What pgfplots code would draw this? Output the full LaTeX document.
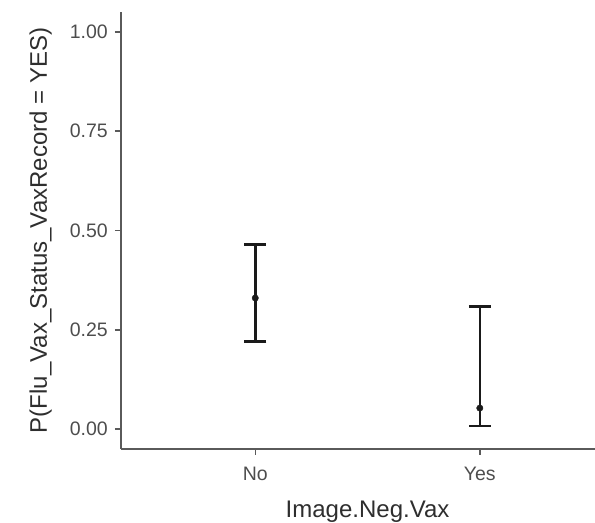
\documentclass[border=0pt]{standalone}
\usepackage{pgfplots}
\pgfplotsset{compat=1.18}
\usepackage{fontspec}
\setmainfont{Liberation Sans}
\definecolor{axisgrey}{HTML}{5A5A5A}
\definecolor{ticktext}{HTML}{4D4D4D}
\definecolor{titletext}{HTML}{2E2E2E}
\definecolor{barcol}{HTML}{1A1A1A}
\begin{document}
\begin{tikzpicture}
\begin{axis}[
  name=ax,
  scale only axis,
  width=474pt, height=437pt,
  xmin=0.402, xmax=2.513,
  ymin=-0.05, ymax=1.05,
  axis x line=bottom, axis y line=left,
  axis line style={-, draw=axisgrey, line width=1.4pt},
  xtick={1,2}, xticklabels={No,Yes},
  ytick={0,0.25,0.5,0.75,1},
  yticklabel={\pgfmathprintnumber[fixed,fixed zerofill,precision=2]{\tick}},
  /pgf/number format/assume math mode=true,
  tick align=outside,
  major tick length=6pt,
  tick style={draw=axisgrey, line width=1.4pt},
  ticklabel style={font=\fontsize{19.5}{20}\selectfont, text=ticktext, inner sep=0pt},
  xticklabel style={anchor=north, yshift=-12pt},
  yticklabel style={anchor=east, xshift=-7pt},
  xlabel={Image.Neg.Vax},
  ylabel={P(Flu\_Vax\_Status\_VaxRecord = YES)},
  label style={font=\fontsize{24}{26}\selectfont, text=titletext, inner sep=0pt},
  xlabel style={at={(axis cs:1.5,-0.05)}, anchor=north, yshift=-52pt},
  ylabel style={at={(axis description cs:0,0.5)}, anchor=south, yshift=69pt},
  clip=false,
]
% point estimates with asymmetric confidence intervals
\addplot[only marks, mark=*, mark size=3.2pt,
  mark options={draw=barcol, fill=barcol},
  error bars/.cd, y dir=both, y explicit,
  error bar style={line width=2.6pt, draw=barcol},
  error mark options={rotate=90, mark size=11pt, line width=2.6pt, draw=barcol}]
  coordinates {
    (1,0.330) += (0,0.135) -= (0,0.110)
    (2,0.053) += (0,0.256) -= (0,0.045)
  };
\end{axis}
\pgfresetboundingbox
\path[use as bounding box] ([xshift=-121pt,yshift=-74pt]ax.south west) rectangle ([yshift=12pt]ax.north east);
\end{tikzpicture}
\end{document}
